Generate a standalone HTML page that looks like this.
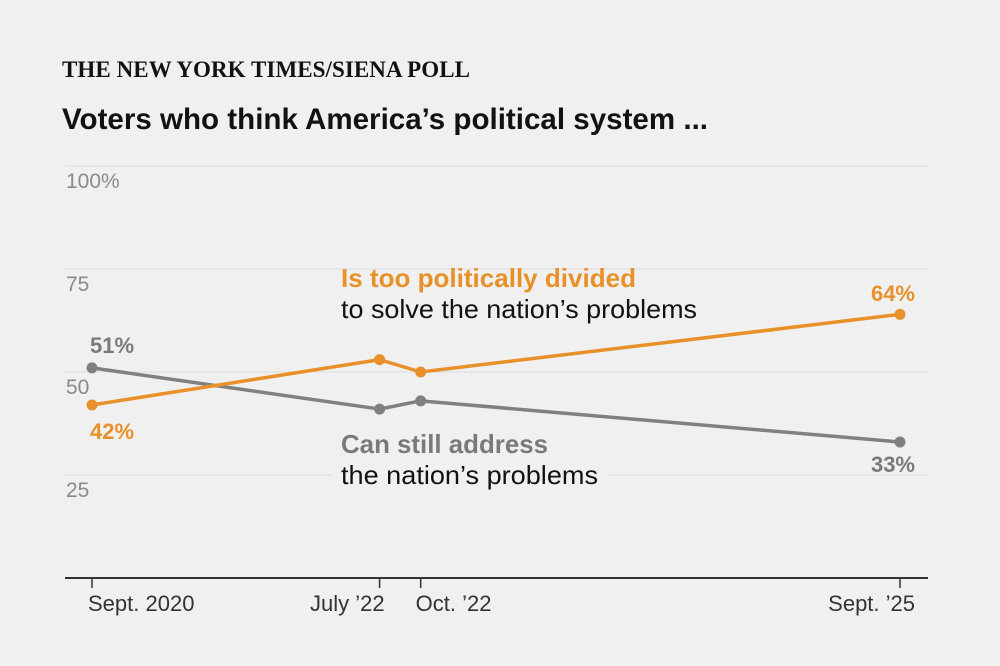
<!DOCTYPE html>
<html><head><meta charset="utf-8"><style>
body{margin:0;background:#f0f0f0;}
svg{display:block;font-family:"Liberation Sans",sans-serif;}
</style></head><body>
<svg width="1000" height="666" viewBox="0 0 1000 666">
<rect width="1000" height="666" fill="#f0f0f0"/>
<text x="62" y="77" font-family="Liberation Serif,serif" font-size="23" font-weight="bold" fill="#121212" textLength="408">THE NEW YORK TIMES/SIENA POLL</text>
<text x="62" y="129" font-size="30" font-weight="bold" fill="#121212" textLength="646" lengthAdjust="spacingAndGlyphs">Voters who think America’s political system ...</text>
<g id="grid"></g>
<g id="lines"></g>
<g id="labels"></g>
</svg>
<script>
const categories = ["Sept. 2020","July ’22","Oct. ’22","Sept. ’25"];
const monthsIdx = [0,21,24,59];
const dividedValues = [42,53,50,64];
const addressValues = [51,41,43,33];
const yTicks = [25,50,75,100];
const yTickLabels = ["25","50","75","100%"];

const NS="http://www.w3.org/2000/svg";
const x = m => 92 + m*(900-92)/59;
const y = v => 578 - v*4.12;
function mk(tag,attrs,parent,txt){const e=document.createElementNS(NS,tag);for(const k in attrs)e.setAttribute(k,attrs[k]);if(txt!==undefined)e.textContent=txt;parent.appendChild(e);return e;}
const grid=document.getElementById('grid'),lines=document.getElementById('lines'),labels=document.getElementById('labels');

yTicks.forEach((t,i)=>{
  const l=mk('line',{x1:65,x2:928,y1:y(t),y2:y(t),stroke:'#dcdcdc','stroke-width':1},grid);
  
  
  const tx=mk('text',{x:66,y:y(t)+22,'font-size':21,fill:'#8a8a8a'},grid,yTickLabels[i]);
  
  
});
const ax=mk('line',{x1:65,x2:928,y1:578,y2:578,stroke:'#333','stroke-width':2},grid);


const anchors=['start','end','start','end'];
const offs=[-4,5,-5,15];
categories.forEach((c,i)=>{
  const tk=mk('line',{x1:x(monthsIdx[i]),x2:x(monthsIdx[i]),y1:578,y2:588,stroke:'#333','stroke-width':1.5},grid);
  
  
  const tx=mk('text',{x:x(monthsIdx[i])+offs[i],y:611,'font-size':22,fill:'#333','text-anchor':anchors[i]},grid,c);
  
  
});
const bg1=mk('rect',{x:332,y:440,width:275,height:52,fill:'#f0f0f0'},grid);



function series(vals,color,name){
  const pts=vals.map((v,i)=>x(monthsIdx[i])+','+y(v)).join(' ');
  const pl=mk('polyline',{points:pts,fill:'none',stroke:color,'stroke-width':3.5,'stroke-linejoin':'round'},lines);
  
  
  vals.forEach((v,i)=>{
    const c=mk('circle',{cx:x(monthsIdx[i]),cy:y(v),r:5.5,fill:color},lines);
    
    
  });
}
series(addressValues,'#808080','address');
series(dividedValues,'#e8912a','divided');

function lab(tx,xx,yy,col,anchor,name){
  const t=mk('text',{x:xx,y:yy,'font-size':22,fill:col,'font-weight':'bold','text-anchor':anchor},labels,tx);
  
  
}
lab(addressValues[0]+'%',x(0)-2,353,'#7a7a7a','start','label-address-start');
lab(dividedValues[0]+'%',x(0)-2,439,'#e8912a','start','label-divided-start');
lab(dividedValues[3]+'%',x(59)+15,301,'#e8912a','end','label-divided-end');
lab(addressValues[3]+'%',x(59)+15,472,'#7a7a7a','end','label-address-end');
function ann(tx,yy,col,bold,len,name){
  const t=mk('text',{x:341,y:yy,'font-size':26,'font-weight':bold?'bold':'normal',fill:col,textLength:len,lengthAdjust:'spacingAndGlyphs'},labels,tx);
  
  
}
ann('Is too politically divided',287,'#e8912a',true,295,'divided-annotation-title');
ann('to solve the nation’s problems',318,'#121212',false,356,'divided-annotation-text');
ann('Can still address',453,'#7a7a7a',true,207,'address-annotation-title');
ann('the nation’s problems',484,'#121212',false,257,'address-annotation-text');
</script>
</body></html>
